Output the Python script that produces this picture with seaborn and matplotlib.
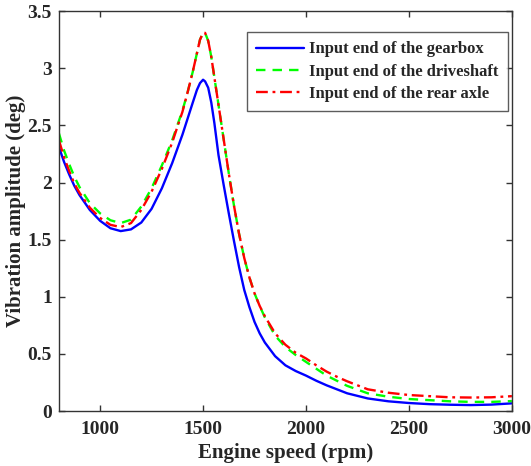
import numpy as np
import pandas as pd
import matplotlib
matplotlib.use('Agg')
import matplotlib.pyplot as plt
import seaborn as sns

# Engine speed (rpm) sample points
rpm = [800, 825, 850, 875, 900, 950, 1000, 1050, 1100, 1150, 1200, 1250, 1300, 1350,
       1400, 1425, 1450, 1470, 1485, 1500, 1510, 1525, 1540, 1555, 1575, 1600, 1625,
       1650, 1675, 1700, 1725, 1750, 1775, 1800, 1850, 1900, 1950, 2000, 2050, 2100,
       2150, 2200, 2300, 2400, 2500, 2600, 2700, 2800, 2900, 3000]

# Vibration amplitude (deg)
gearbox = [2.31, 2.18, 2.07, 1.97, 1.89, 1.76, 1.665, 1.60, 1.575, 1.59, 1.65, 1.77, 1.95, 2.17,
           2.42, 2.56, 2.70, 2.81, 2.87, 2.90, 2.885, 2.83, 2.70, 2.52, 2.24, 1.98, 1.73,
           1.49, 1.26, 1.06, 0.91, 0.78, 0.68, 0.60, 0.48, 0.40, 0.35, 0.31, 0.265, 0.225,
           0.19, 0.155, 0.11, 0.085, 0.07, 0.06, 0.055, 0.052, 0.056, 0.067]
driveshaft = [2.43, 2.28, 2.16, 2.05, 1.96, 1.82, 1.73, 1.67, 1.645, 1.675, 1.79, 1.95, 2.15, 2.37,
              2.63, 2.79, 2.97, 3.13, 3.25, 3.31, 3.31, 3.24, 3.10, 2.92, 2.68, 2.38, 2.08,
              1.80, 1.55, 1.34, 1.17, 1.03, 0.92, 0.82, 0.66, 0.56, 0.49, 0.43, 0.37, 0.31,
              0.265, 0.22, 0.155, 0.125, 0.105, 0.095, 0.085, 0.08, 0.08, 0.087]
rear_axle = [2.37, 2.22, 2.10, 1.99, 1.91, 1.78, 1.69, 1.63, 1.61, 1.645, 1.76, 1.92, 2.12, 2.35,
             2.62, 2.79, 2.97, 3.13, 3.25, 3.31, 3.31, 3.24, 3.10, 2.92, 2.68, 2.38, 2.08,
             1.80, 1.55, 1.34, 1.17, 1.03, 0.92, 0.83, 0.68, 0.58, 0.51, 0.46, 0.40, 0.345,
             0.30, 0.26, 0.19, 0.16, 0.14, 0.13, 0.12, 0.118, 0.12, 0.13]

labels = ['Input end of the gearbox', 'Input end of the driveshaft', 'Input end of the rear axle']

sns.set_theme(style='ticks')
plt.rcParams['font.family'] = ['Liberation Serif', 'DejaVu Serif']
plt.rcParams['font.weight'] = 'bold'

fig = plt.figure(figsize=(5.31, 4.66), dpi=100)
ax = fig.add_axes([0.111, 0.118, 0.853, 0.858])

sns.lineplot(x=rpm, y=gearbox, ax=ax, color='#0000FF', linewidth=1.7, label=labels[0])
sns.lineplot(x=rpm, y=driveshaft, ax=ax, color='#00FF00', linewidth=1.7, label=labels[1])
sns.lineplot(x=rpm, y=rear_axle, ax=ax, color='#FF0000', linewidth=1.7, label=labels[2])
ax.lines[1].set_linestyle((0, (4, 3)))
ax.lines[2].set_linestyle((0, (5, 2, 1.2, 2)))
for ln in ax.lines:
    ln.set_solid_joinstyle('round')
    ln.set_dash_joinstyle('round')

ax.set_xlim(800, 3000)
ax.set_ylim(0, 3.5)
ax.set_xticks([1000, 1500, 2000, 2500, 3000])
ax.set_yticks([0, 0.5, 1, 1.5, 2, 2.5, 3, 3.5])
ax.set_yticklabels(['0', '0.5', '1', '1.5', '2', '2.5', '3', '3.5'])
ax.set_xlabel('Engine speed (rpm)', fontsize=15, fontweight='bold', labelpad=4)
ax.set_ylabel('Vibration amplitude (deg)', fontsize=15, fontweight='bold')
ax.yaxis.set_label_coords(-0.072, 0.5)

for s in ax.spines.values():
    s.set_visible(True)
    s.set_color('#333333')
    s.set_linewidth(1.0)
ax.tick_params(direction='in', length=4, width=1, color='#333333', top=True, right=True,
               labelsize=14)
ax.tick_params(axis='x', pad=7)
ax.tick_params(axis='y', pad=5)
for t in ax.get_xticklabels() + ax.get_yticklabels():
    t.set_fontweight('bold')

leg = ax.legend(loc='upper right', bbox_to_anchor=(0.991, 0.9475), fontsize=12,
                frameon=True, fancybox=False, handlelength=2.9, handletextpad=0.3,
                borderpad=0.55, labelspacing=0.38, borderaxespad=0)
leg.get_frame().set_edgecolor('#333333')
leg.get_frame().set_linewidth(1.0)
for t in leg.get_texts():
    t.set_fontweight('bold')

fig.savefig('out.png', dpi=100)
